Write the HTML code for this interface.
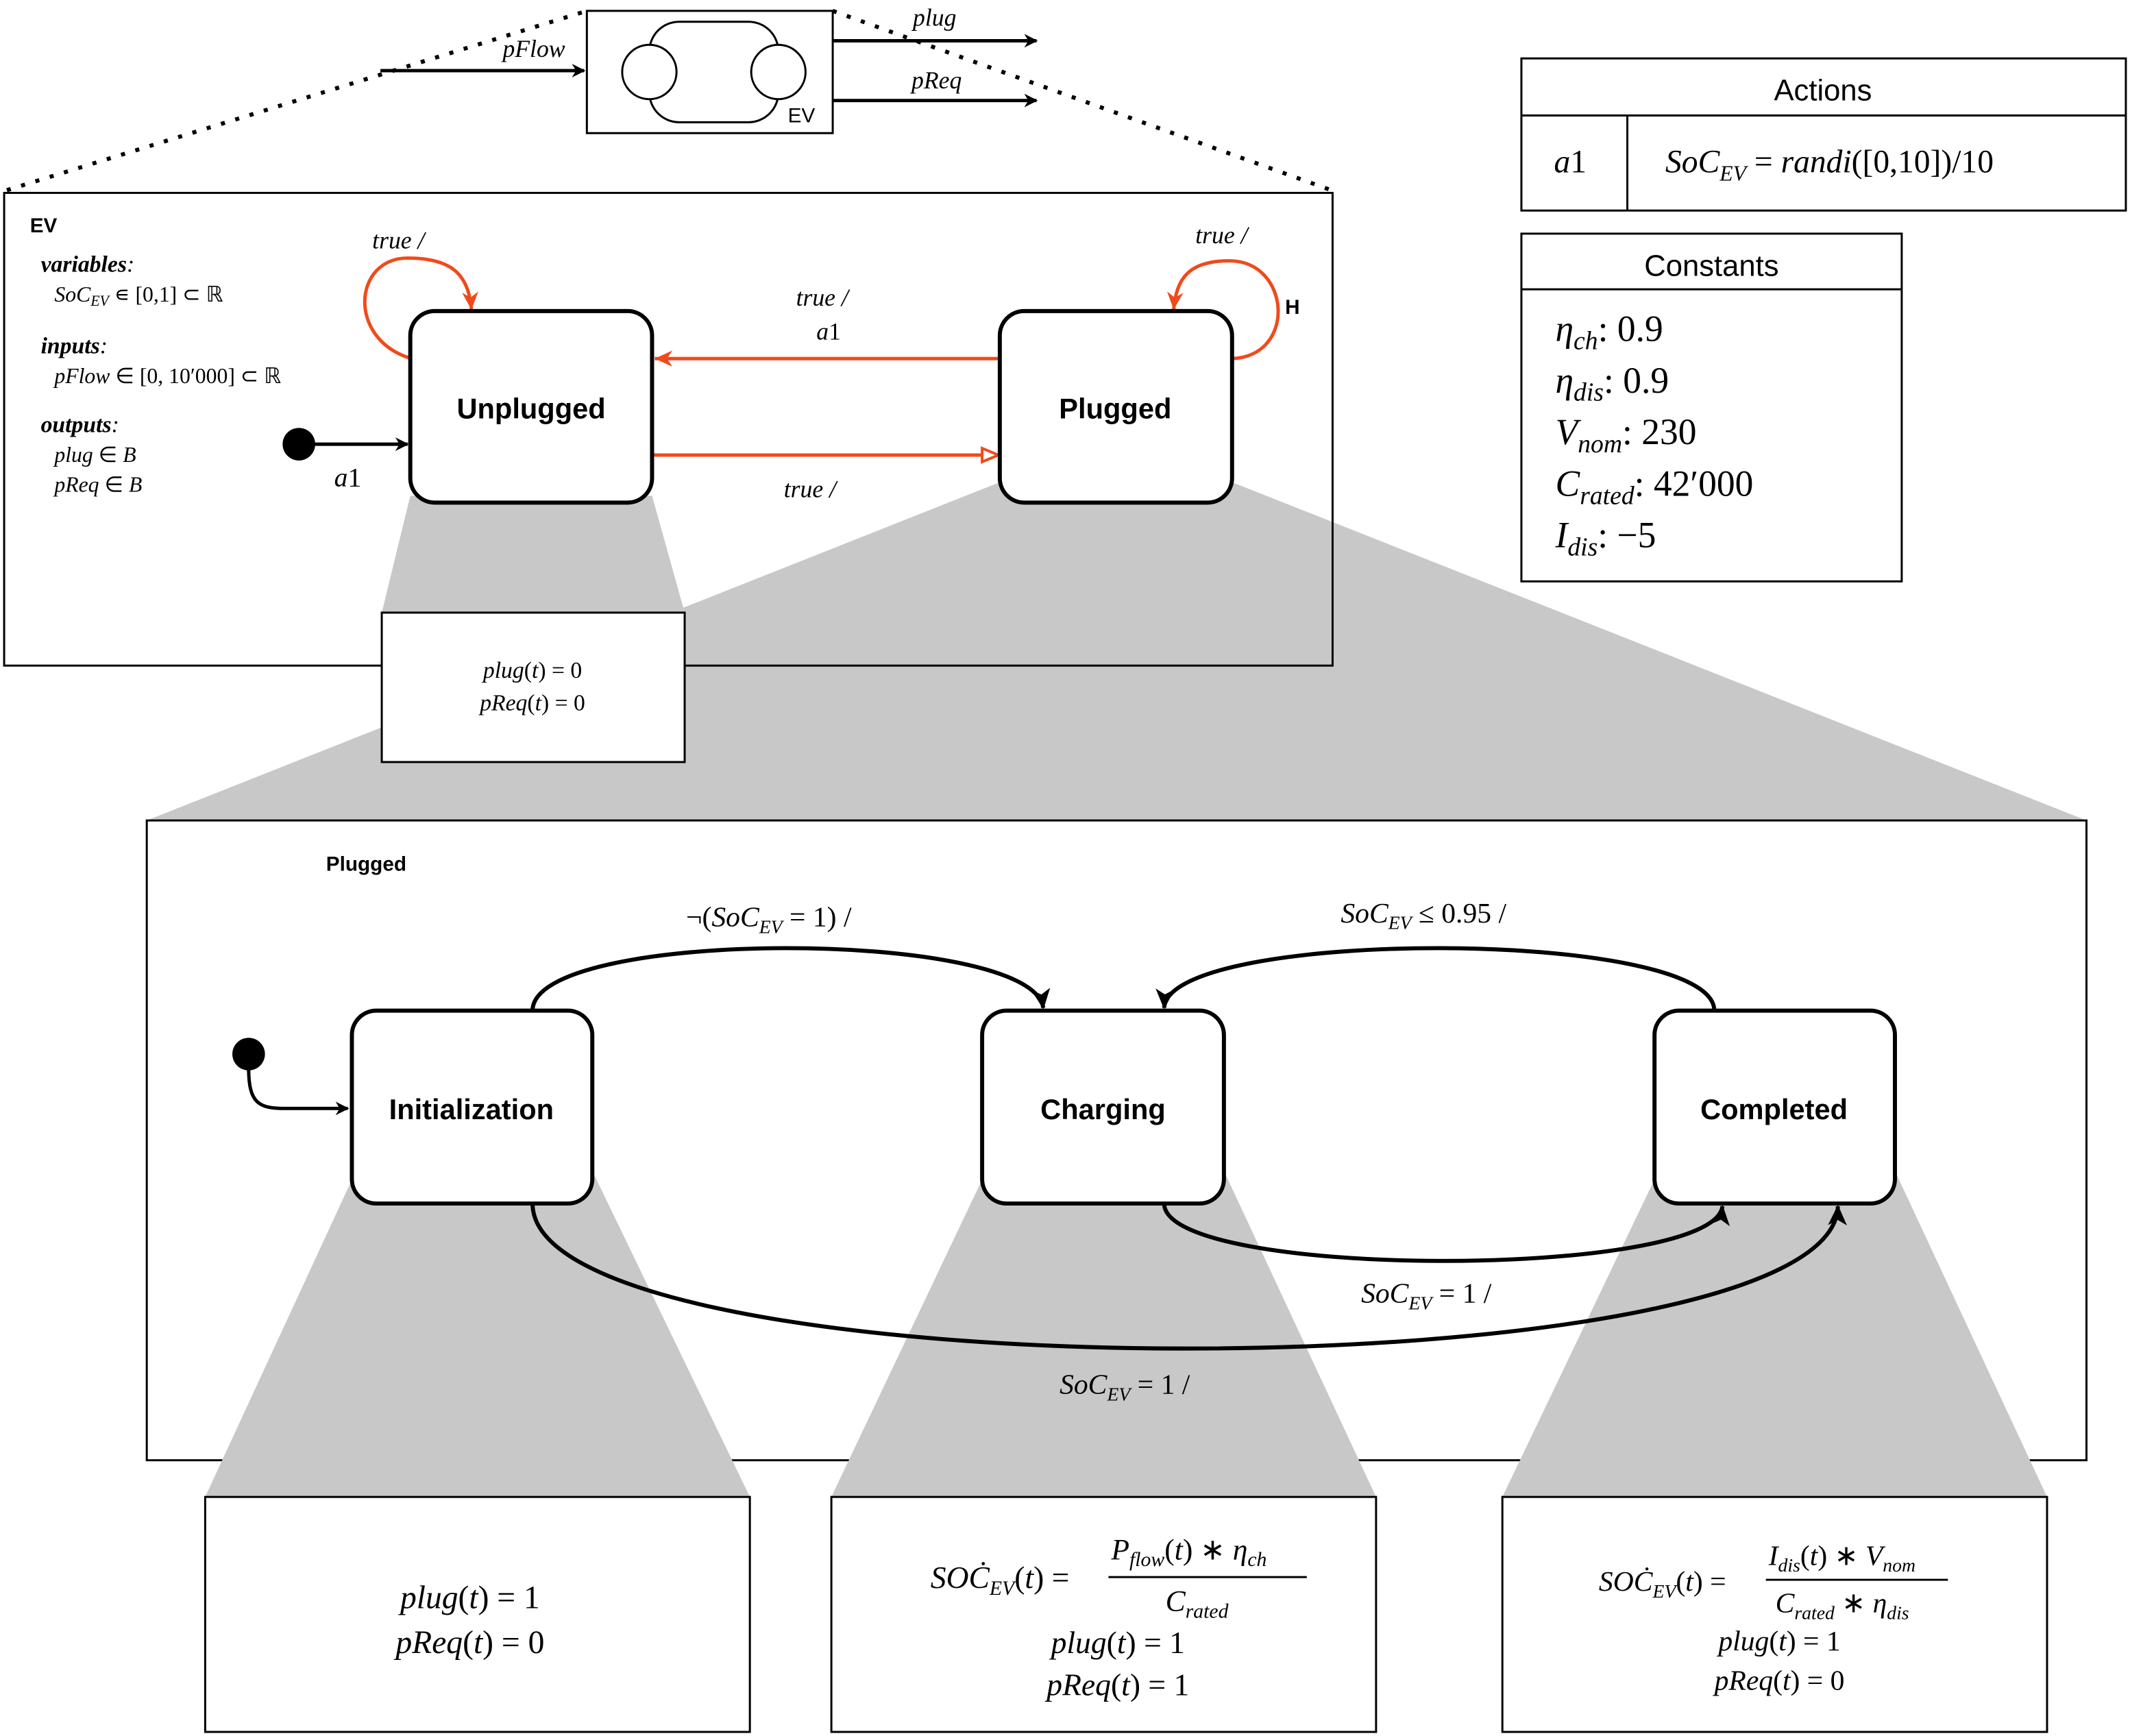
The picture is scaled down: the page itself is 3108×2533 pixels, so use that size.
<!DOCTYPE html>
<html><head><meta charset="utf-8"><style>
html,body{margin:0;padding:0;background:#fff}
svg{display:block}
.s{font-family:"Liberation Serif",serif;font-style:italic}
.b{font-family:"Liberation Sans",sans-serif;font-weight:bold}
.n{font-family:"Liberation Sans",sans-serif}
</style></head><body>
<svg width="3108" height="2533" viewBox="0 0 1568 1278" xmlns="http://www.w3.org/2000/svg">
<defs>
<marker id="ak" markerWidth="10" markerHeight="10" refX="9" refY="5" orient="auto" markerUnits="userSpaceOnUse"><path d="M0,0 L10,5 L0,10 L3,5 z" fill="#000"/></marker>
<marker id="ar" markerWidth="14" markerHeight="14" refX="13" refY="7" orient="auto" markerUnits="userSpaceOnUse"><path d="M0,1 L13,7 L0,13 L4,7 z" fill="#f04a1c"/></marker>
<marker id="ao" markerWidth="14" markerHeight="14" refX="13" refY="7" orient="auto" markerUnits="userSpaceOnUse"><path d="M1,2 L13,7 L1,12 z" fill="#fff" stroke="#f04a1c" stroke-width="2"/></marker>
<marker id="ab" markerWidth="16" markerHeight="16" refX="14" refY="8" orient="auto" markerUnits="userSpaceOnUse"><path d="M0,1 L15,8 L0,15 L4,8 z" fill="#000"/></marker>
</defs>
<g fill="#c8c8c8">
<polygon points="302,365 480,365 504,451 281,451"/>
<polygon points="736,355 907,355 1536,604 108,604"/>
</g>
<line x1="5" y1="140" x2="432" y2="8" stroke="#000" stroke-width="3" stroke-dasharray="3,8"/>
<line x1="613" y1="8" x2="980" y2="140" stroke="#000" stroke-width="3" stroke-dasharray="3,8"/>
<rect x="432" y="8" width="181" height="90" fill="#fff" stroke="#000" stroke-width="1.5"/>
<rect x="478" y="16" width="95" height="74" rx="22" fill="none" stroke="#000" stroke-width="1.5"/>
<circle cx="478" cy="53" r="20" fill="#fff" stroke="#000" stroke-width="1.5"/>
<circle cx="573" cy="53" r="20" fill="#fff" stroke="#000" stroke-width="1.5"/>
<text x="580" y="90" class="n" font-size="15">EV</text>
<line x1="280" y1="52" x2="430" y2="52" stroke="#000" stroke-width="2.5" marker-end="url(#ak)"/>
<text x="370" y="42" class="s" font-size="18">pFlow</text>
<line x1="613" y1="30" x2="763" y2="30" stroke="#000" stroke-width="2.5" marker-end="url(#ak)"/>
<text x="672" y="19" class="s" font-size="18">plug</text>
<line x1="613" y1="74" x2="763" y2="74" stroke="#000" stroke-width="2.5" marker-end="url(#ak)"/>
<text x="671" y="65" class="s" font-size="18">pReq</text>
<rect x="3" y="142" width="978" height="348" fill="none" stroke="#000" stroke-width="1.5"/>
<text x="22" y="171" class="b" font-size="15">EV</text>
<text x="30" y="200" class="s" font-size="17" font-weight="bold">variables<tspan font-weight="normal">:</tspan></text>
<text x="40" y="222" class="s" font-size="16">SoC<tspan font-size="11" dy="3">EV</tspan><tspan dy="-3" font-style="normal"> ∊ [0,1] ⊂ ℝ</tspan></text>
<text x="30" y="260" class="s" font-size="17" font-weight="bold">inputs<tspan font-weight="normal">:</tspan></text>
<text x="40" y="282" class="s" font-size="16">pFlow<tspan font-style="normal"> ∈ [0, 10′000] ⊂ ℝ</tspan></text>
<text x="30" y="318" class="s" font-size="17" font-weight="bold">outputs<tspan font-weight="normal">:</tspan></text>
<text x="40" y="340" class="s" font-size="16">plug<tspan font-style="normal"> ∈ </tspan>B</text>
<text x="40" y="362" class="s" font-size="16">pReq<tspan font-style="normal"> ∈ </tspan>B</text>
<circle cx="220" cy="327" r="12" fill="#000"/>
<line x1="230" y1="327" x2="300" y2="327" stroke="#000" stroke-width="2.5" marker-end="url(#ak)"/>
<text x="246" y="358" class="s" font-size="20">a<tspan font-style="normal">1</tspan></text>
<path d="M303,264 C255,250 260,190 300,190 C330,190 345,200 347,228" fill="none" stroke="#f04a1c" stroke-width="2.5" marker-end="url(#ar)"/>
<text x="274" y="183" class="s" font-size="18">true /</text>
<path d="M907,264 C955,262 950,192 905,192 C875,192 866,205 864,228" fill="none" stroke="#f04a1c" stroke-width="2.5" marker-end="url(#ar)"/>
<text x="880" y="179" class="s" font-size="18">true /</text>
<text x="946" y="231" class="b" font-size="15">H</text>
<line x1="736" y1="264" x2="482" y2="264" stroke="#f04a1c" stroke-width="2.5" marker-end="url(#ar)"/>
<text x="586" y="225" class="s" font-size="18">true /</text>
<text x="601" y="250" class="s" font-size="18">a<tspan font-style="normal">1</tspan></text>
<line x1="480" y1="335" x2="735" y2="335" stroke="#f04a1c" stroke-width="2.5" marker-end="url(#ao)"/>
<text x="577" y="366" class="s" font-size="18">true /</text>
<rect x="302" y="229" width="178" height="141" rx="18" fill="#fff" stroke="#000" stroke-width="3"/>
<text x="391" y="308" class="b" font-size="21" text-anchor="middle">Unplugged</text>
<rect x="736" y="229" width="171" height="141" rx="18" fill="#fff" stroke="#000" stroke-width="3"/>
<text x="821" y="308" class="b" font-size="21" text-anchor="middle">Plugged</text>
<rect x="281" y="451" width="223" height="110" fill="#fff" stroke="#000" stroke-width="1.5"/>
<text x="392" y="499" class="s" font-size="17" text-anchor="middle">plug<tspan font-style="normal">(</tspan>t<tspan font-style="normal">) = 0</tspan></text>
<text x="392" y="523" class="s" font-size="17" text-anchor="middle">pReq<tspan font-style="normal">(</tspan>t<tspan font-style="normal">) = 0</tspan></text>
<rect x="108" y="604" width="1428" height="471" fill="#fff" stroke="#000" stroke-width="1.5"/>
<g fill="#c8c8c8">
<polygon points="262,862 436,862 552,1102 151,1102"/>
<polygon points="726,862 901,862 1013,1102 612,1102"/>
<polygon points="1221,862 1395,862 1507,1102 1106,1102"/>
</g>
<text x="240" y="641" class="b" font-size="15">Plugged</text>
<circle cx="183" cy="776" r="12" fill="#000"/>
<path d="M183,786 C183,812 190,816 210,816 L256,816" fill="none" stroke="#000" stroke-width="2.5" marker-end="url(#ak)"/>
<path d="M392,744 C392,683 760,683 768,742" fill="none" stroke="#000" stroke-width="3" marker-end="url(#ab)"/>
<text x="505" y="682" class="s" font-size="21"><tspan font-style="normal">¬(</tspan>SoC<tspan font-size="14" dy="5">EV</tspan><tspan dy="-5" font-style="normal"> = 1) /</tspan></text>
<path d="M1262,744 C1262,683 860,683 857,742" fill="none" stroke="#000" stroke-width="3" marker-end="url(#ab)"/>
<text x="987" y="679" class="s" font-size="21">SoC<tspan font-size="14" dy="5">EV</tspan><tspan dy="-5" font-style="normal"> ≤ 0.95 /</tspan></text>
<path d="M857,886 C857,942 1262,942 1268,888" fill="none" stroke="#000" stroke-width="3" marker-end="url(#ab)"/>
<text x="1002" y="959" class="s" font-size="21">SoC<tspan font-size="14" dy="5">EV</tspan><tspan dy="-5" font-style="normal"> = 1 /</tspan></text>
<path d="M392,886 C392,1028 1350,1028 1353,888" fill="none" stroke="#000" stroke-width="3" marker-end="url(#ab)"/>
<text x="780" y="1026" class="s" font-size="21">SoC<tspan font-size="14" dy="5">EV</tspan><tspan dy="-5" font-style="normal"> = 1 /</tspan></text>
<rect x="259" y="744" width="177" height="142" rx="18" fill="#fff" stroke="#000" stroke-width="3"/>
<text x="347" y="824" class="b" font-size="21" text-anchor="middle">Initialization</text>
<rect x="723" y="744" width="178" height="142" rx="18" fill="#fff" stroke="#000" stroke-width="3"/>
<text x="812" y="824" class="b" font-size="21" text-anchor="middle">Charging</text>
<rect x="1218" y="744" width="177" height="142" rx="18" fill="#fff" stroke="#000" stroke-width="3"/>
<text x="1306" y="824" class="b" font-size="21" text-anchor="middle">Completed</text>
<rect x="151" y="1102" width="401" height="173" fill="#fff" stroke="#000" stroke-width="1.5"/>
<text x="346" y="1184" class="s" font-size="24" text-anchor="middle">plug<tspan font-style="normal">(</tspan>t<tspan font-style="normal">) = 1</tspan></text>
<text x="346" y="1217" class="s" font-size="24" text-anchor="middle">pReq<tspan font-style="normal">(</tspan>t<tspan font-style="normal">) = 0</tspan></text>
<rect x="612" y="1102" width="401" height="173" fill="#fff" stroke="#000" stroke-width="1.5"/>
<text x="685" y="1169" class="s" font-size="23">SOĊ<tspan font-size="15" dy="5">EV</tspan><tspan dy="-5" font-style="normal">(</tspan>t<tspan font-style="normal">) =</tspan></text>
<text x="818" y="1148" class="s" font-size="22">P<tspan font-size="15" dy="5">flow</tspan><tspan dy="-5" font-style="normal">(</tspan>t<tspan font-style="normal">) ∗ </tspan>η<tspan font-size="15" dy="5">ch</tspan></text>
<line x1="816" y1="1161" x2="962" y2="1161" stroke="#000" stroke-width="1.5"/>
<text x="858" y="1186" class="s" font-size="22">C<tspan font-size="15" dy="5">rated</tspan></text>
<text x="823" y="1217" class="s" font-size="23" text-anchor="middle">plug<tspan font-style="normal">(</tspan>t<tspan font-style="normal">) = 1</tspan></text>
<text x="823" y="1248" class="s" font-size="23" text-anchor="middle">pReq<tspan font-style="normal">(</tspan>t<tspan font-style="normal">) = 1</tspan></text>
<rect x="1106" y="1102" width="401" height="173" fill="#fff" stroke="#000" stroke-width="1.5"/>
<text x="1177" y="1171" class="s" font-size="21">SOĊ<tspan font-size="14" dy="5">EV</tspan><tspan dy="-5" font-style="normal">(</tspan>t<tspan font-style="normal">) =</tspan></text>
<text x="1302" y="1152" class="s" font-size="21">I<tspan font-size="14" dy="5">dis</tspan><tspan dy="-5" font-style="normal">(</tspan>t<tspan font-style="normal">) ∗ </tspan>V<tspan font-size="14" dy="5">nom</tspan></text>
<line x1="1300" y1="1163" x2="1434" y2="1163" stroke="#000" stroke-width="1.5"/>
<text x="1307" y="1187" class="s" font-size="21">C<tspan font-size="14" dy="5">rated</tspan><tspan dy="-5" font-style="normal"> ∗ </tspan>η<tspan font-size="14" dy="5">dis</tspan></text>
<text x="1310" y="1215" class="s" font-size="21" text-anchor="middle">plug<tspan font-style="normal">(</tspan>t<tspan font-style="normal">) = 1</tspan></text>
<text x="1310" y="1244" class="s" font-size="21" text-anchor="middle">pReq<tspan font-style="normal">(</tspan>t<tspan font-style="normal">) = 0</tspan></text>
<rect x="1120" y="43" width="445" height="112" fill="#fff" stroke="#000" stroke-width="1.5"/>
<line x1="1120" y1="85" x2="1565" y2="85" stroke="#000" stroke-width="1.5"/>
<line x1="1198" y1="85" x2="1198" y2="155" stroke="#000" stroke-width="1.5"/>
<text x="1342" y="74" class="n" font-size="22" text-anchor="middle">Actions</text>
<text x="1144" y="127" class="s" font-size="24">a<tspan font-style="normal">1</tspan></text>
<text x="1226" y="127" class="s" font-size="24">SoC<tspan font-size="16" dy="6">EV</tspan><tspan dy="-6" font-style="normal"> = </tspan>randi<tspan font-style="normal">([0,10])/10</tspan></text>
<rect x="1120" y="172" width="280" height="256" fill="#fff" stroke="#000" stroke-width="1.5"/>
<line x1="1120" y1="213" x2="1400" y2="213" stroke="#000" stroke-width="1.5"/>
<text x="1260" y="203" class="n" font-size="22" text-anchor="middle">Constants</text>
<text x="1145" y="251" class="s" font-size="27">η<tspan font-size="19" dy="6">ch</tspan><tspan dy="-6" font-style="normal">: 0.9</tspan></text>
<text x="1145" y="289" class="s" font-size="27">η<tspan font-size="19" dy="6">dis</tspan><tspan dy="-6" font-style="normal">: 0.9</tspan></text>
<text x="1145" y="327" class="s" font-size="27">V<tspan font-size="19" dy="6">nom</tspan><tspan dy="-6" font-style="normal">: 230</tspan></text>
<text x="1145" y="365" class="s" font-size="27">C<tspan font-size="19" dy="6">rated</tspan><tspan dy="-6" font-style="normal">: 42′000</tspan></text>
<text x="1145" y="403" class="s" font-size="27">I<tspan font-size="19" dy="6">dis</tspan><tspan dy="-6" font-style="normal">: −5</tspan></text>
</svg>
</body></html>
